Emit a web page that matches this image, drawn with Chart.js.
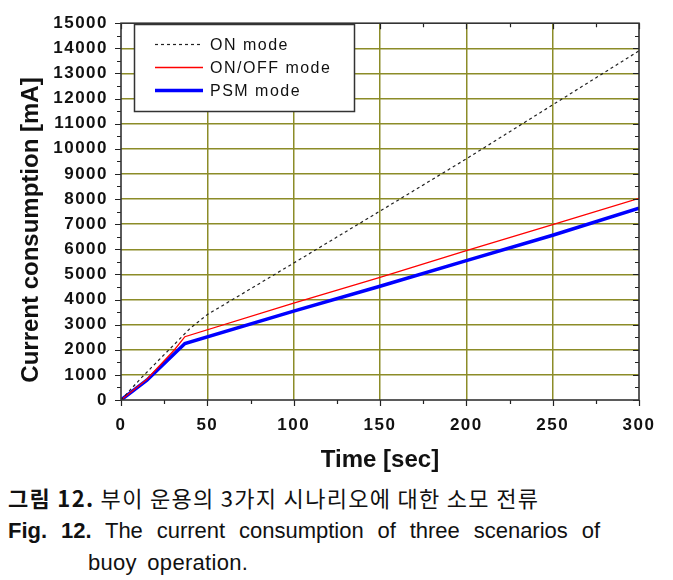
<!DOCTYPE html>
<html>
<head>
<meta charset="utf-8">
<script src="https://cdn.jsdelivr.net/npm/chart.js@4/dist/chart.umd.min.js"></script>
<style>
  html, body { margin: 0; padding: 0; background: #fff; }
  body { width: 673px; height: 580px; position: relative; overflow: hidden; }
  #c { position: absolute; left: 0; top: 0; }
  .cap { position: absolute; color: #111; white-space: nowrap; }
  #k1 { left: 8px; top: 483px; font-family: "Noto Sans CJK KR", sans-serif; font-size: 22px; line-height: 28px; letter-spacing: 1.3px; }
  #e1 { left: 8px; top: 517px; width: 592px; font-family: "Liberation Sans", Arial, sans-serif; font-size: 22px; line-height: 28px; text-align: justify; text-align-last: justify; }
  #e2 { left: 88px; top: 549px; font-family: "Liberation Sans", Arial, sans-serif; font-size: 22px; line-height: 28px; letter-spacing: 0.3px; word-spacing: 4px; }
  b { font-weight: bold; }
</style>
</head>
<body>
<canvas id="c" width="673" height="480"></canvas>
<div class="cap" id="k1"><b>그림 12.</b> 부이 운용의 3가지 시나리오에 대한 소모 전류</div>
<div class="cap" id="e1"><b>Fig. 12.</b> The current consumption of three scenarios of</div>
<div class="cap" id="e2">buoy operation.</div>
<script>
// ---- data ----
const seriesNames = ["ON mode", "ON/OFF mode", "PSM mode"];
const onTime   = [0, 12, 40, 50, 100, 150, 200, 250, 300];
const onValues = [0, 900, 2850, 3400, 5450, 7520, 9600, 11750, 13900];
const onOffTime   = [0, 15, 31, 37, 100, 150, 200, 250, 300];
const onOffValues = [0, 830, 2000, 2520, 3860, 4880, 5950, 6980, 8030];
const psmTime   = [0, 15, 37, 100, 150, 200, 250, 300];
const psmValues = [0, 790, 2250, 3540, 4530, 5550, 6560, 7640];
const xTitle = "Time [sec]";
const yTitle = "Current consumption [mA]";

const toPts = (xs, ys) => xs.map((x, i) => ({ x: x, y: ys[i] }));
const OLIVE = "rgb(140,140,40)";

const decor = {
  id: "decor",
  beforeDraw(chart) { chart.ctx.letterSpacing = "1.5px"; },
  afterDatasetsDraw(chart) {
    const ctx = chart.ctx, a = chart.chartArea;
    const xs = chart.scales.x, ys = chart.scales.y;
    ctx.save();
    ctx.letterSpacing = "0px";
    ctx.strokeStyle = "#222";
    ctx.lineWidth = 1.2;
    ctx.beginPath();
    for (let v = 0; v <= 300; v += 25) {
      const p = Math.round(xs.getPixelForValue(v)) + 0.5;
      const len = v % 50 === 0 ? 6 : 4;
      ctx.moveTo(p, a.bottom); ctx.lineTo(p, a.bottom + len);
      ctx.moveTo(p, a.top); ctx.lineTo(p, a.top + len);
    }
    for (let v = 0; v <= 15000; v += 500) {
      const p = Math.round(ys.getPixelForValue(v)) + 0.5;
      const len = v % 1000 === 0 ? 6 : 4;
      ctx.moveTo(a.left - len, p); ctx.lineTo(a.left, p);
      ctx.moveTo(a.right - len, p); ctx.lineTo(a.right, p);
    }
    ctx.stroke();
    ctx.lineWidth = 1.6;
    ctx.strokeStyle = "#333";
    ctx.strokeRect(a.left, a.top, a.right - a.left, a.bottom - a.top);

    // legend box
    const lx = 134, ly = 24, lw = 220, lh = 87;
    ctx.fillStyle = "#fff";
    ctx.fillRect(lx, ly, lw, lh);
    ctx.lineWidth = 1.5;
    ctx.strokeStyle = "#333";
    ctx.strokeRect(lx + 0.5, ly + 0.5, lw, lh);
    const rows = [44, 67, 90];
    chart.data.datasets.forEach((ds, i) => {
      const y = rows[i] + 0.5;
      ctx.save();
      ctx.beginPath();
      ctx.strokeStyle = ds.borderColor;
      ctx.lineWidth = ds.borderWidth;
      ctx.setLineDash(ds.borderDash || []);
      ctx.moveTo(155, y); ctx.lineTo(203, y);
      ctx.stroke();
      ctx.restore();
      ctx.fillStyle = "#111";
      ctx.font = "16px 'Liberation Sans', Arial, sans-serif";
      ctx.letterSpacing = "1.5px";
      ctx.textAlign = "left";
      ctx.textBaseline = "middle";
      ctx.fillText(ds.label, 210, y + 1);
    });

    // axis titles
    ctx.letterSpacing = "0px";
    ctx.fillStyle = "#111";
    ctx.font = "bold 24px 'Liberation Sans', Arial, sans-serif";
    ctx.textAlign = "center";
    ctx.textBaseline = "middle";
    ctx.save();
    ctx.translate(31, 230);
    ctx.rotate(-Math.PI / 2);
    ctx.fillText(yTitle, 0, 0);
    ctx.restore();
    ctx.font = "bold 24px 'Liberation Sans', Arial, sans-serif";
    ctx.fillText(xTitle, 380, 460);
    ctx.restore();
  }
};

new Chart(document.getElementById("c"), {
  type: "line",
  data: {
    datasets: [
      { label: seriesNames[0], data: toPts(onTime, onValues), borderColor: "#222222", borderWidth: 1.2, borderDash: [3, 3], pointRadius: 0, fill: false, tension: 0 },
      { label: seriesNames[1], data: toPts(onOffTime, onOffValues), borderColor: "#ff0000", borderWidth: 1.3, pointRadius: 0, fill: false, tension: 0 },
      { label: seriesNames[2], data: toPts(psmTime, psmValues), borderColor: "#0000ff", borderWidth: 3.5, pointRadius: 0, fill: false, tension: 0 }
    ]
  },
  options: {
    responsive: false,
    animation: false,
    layout: { padding: { left: 0, right: 34, top: 19, bottom: 0 } },
    plugins: { legend: { display: false }, tooltip: { enabled: false } },
    scales: {
      x: {
        type: "linear", min: 0, max: 300,
        afterFit: s => { s.height = 80; },
        ticks: { stepSize: 50, padding: 15, color: "#111", callback: v => String(v), font: { family: "'Liberation Sans', Arial, sans-serif", size: 17, weight: "bold" } },
        grid: { drawTicks: false, lineWidth: 1.5, color: c => (c.tick && (c.tick.value === 0 || c.tick.value === 300)) ? "rgba(0,0,0,0)" : OLIVE },
        border: { display: false }
      },
      y: {
        type: "linear", min: 0, max: 15000,
        afterFit: s => { s.width = 121; },
        ticks: { stepSize: 1000, padding: 13, color: "#111", callback: v => String(v), font: { family: "'Liberation Sans', Arial, sans-serif", size: 17, weight: "bold" } },
        grid: { drawTicks: false, lineWidth: 1.5, color: c => (c.tick && (c.tick.value === 0 || c.tick.value === 15000)) ? "rgba(0,0,0,0)" : OLIVE },
        border: { display: false }
      }
    }
  },
  plugins: [decor]
});
</script>
</body>
</html>
